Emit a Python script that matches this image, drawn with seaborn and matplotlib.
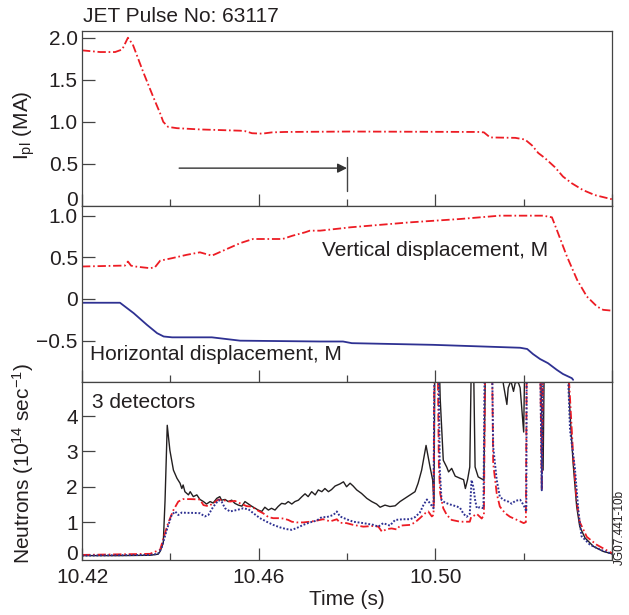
import matplotlib
matplotlib.use("Agg")
import matplotlib.pyplot as plt
import seaborn as sns
import pandas as pd
from matplotlib.ticker import FixedLocator, FixedFormatter

# ---------------- data ----------------
ip_t = [10.4200, 10.4241, 10.4275, 10.4291, 10.4304, 10.4315, 10.4338, 10.4361, 10.4377,
        10.4384, 10.4395, 10.4415, 10.4467, 10.4558, 10.4569, 10.4585, 10.4608, 10.4630,
        10.4660, 10.4807, 10.5100, 10.5110, 10.5124, 10.5181, 10.5203, 10.5219, 10.5233,
        10.5248, 10.5271, 10.5289, 10.5309, 10.5334, 10.5361, 10.5400]
ip_val = [1.85, 1.83, 1.83, 1.86, 2.00, 1.92, 1.60, 1.30, 1.10,
          1.00, 0.94, 0.925, 0.91, 0.895, 0.89, 0.865, 0.86, 0.875,
          0.88, 0.885, 0.88, 0.875, 0.815, 0.81, 0.79, 0.72, 0.63,
          0.57, 0.46, 0.35, 0.27, 0.19, 0.13, 0.08]

vert_t = [10.4200, 10.4286, 10.4297, 10.4304, 10.4311, 10.4320, 10.4354, 10.4365, 10.4377,
          10.4404, 10.4437, 10.4467, 10.4494, 10.4528, 10.4558, 10.4587, 10.4654, 10.4677,
          10.4705, 10.4716, 10.4739, 10.4791, 10.4807, 10.4943, 10.5056, 10.5146, 10.5244,
          10.5264, 10.5275, 10.5298, 10.5321, 10.5343, 10.5366, 10.5380, 10.5400]
vert_val = [0.39, 0.40, 0.40, 0.45, 0.40, 0.39, 0.37, 0.38, 0.46,
            0.49, 0.53, 0.56, 0.52, 0.60, 0.67, 0.72, 0.72, 0.76,
            0.80, 0.82, 0.82, 0.85, 0.86, 0.92, 0.96, 1.00, 1.00,
            0.98, 0.83, 0.51, 0.23, 0.03, -0.09, -0.13, -0.14]

horz_t = [10.4200, 10.4286, 10.4317, 10.4347, 10.4370, 10.4385, 10.4404, 10.4494, 10.4558,
          10.4739, 10.4791, 10.4811, 10.4995, 10.5192, 10.5208, 10.5221, 10.5237, 10.5255,
          10.5275, 10.5289, 10.5309, 10.5312]
horz_val = [-0.045, -0.045, -0.17, -0.31, -0.41, -0.45, -0.46, -0.46, -0.50,
            -0.51, -0.51, -0.53, -0.55, -0.585, -0.60, -0.66, -0.72, -0.77,
            -0.85, -0.90, -0.95, -0.97]

nb_t = [10.4200, 10.4286, 10.4354, 10.4372, 10.4377, 10.4384, 10.4388, 10.4393, 10.4399,
        10.4407, 10.4415, 10.4422, 10.4426, 10.4429, 10.4433, 10.4441, 10.4445, 10.4452,
        10.4460, 10.4467, 10.4475, 10.4482, 10.4490, 10.4497, 10.4505, 10.4512, 10.4516,
        10.4524, 10.4531, 10.4539, 10.4546, 10.4554, 10.4562, 10.4569, 10.4577, 10.4584,
        10.4592, 10.4599, 10.4607, 10.4614, 10.4622, 10.4629, 10.4637, 10.4644, 10.4652,
        10.4660, 10.4667, 10.4675, 10.4682, 10.4690, 10.4698, 10.4705, 10.4712, 10.4720,
        10.4728, 10.4735, 10.4743, 10.4750, 10.4758, 10.4765, 10.4773, 10.4784, 10.4792,
        10.4799, 10.4807, 10.4814, 10.4822, 10.4833, 10.4845, 10.4856, 10.4867, 10.4875,
        10.4886, 10.4897, 10.4909, 10.4920, 10.4931, 10.4943, 10.4954, 10.4961, 10.4969,
        10.4979, 10.4988, 10.4994, 10.4997, 10.4999, 10.5003, 10.5008, 10.5011, 10.5018,
        10.5026, 10.5030, 10.5037, 10.5045, 10.5056, 10.5064, 10.5068, 10.5073, 10.5078,
        10.5082, 10.5086, 10.5090, 10.5097, 10.5105, 10.5110, 10.5114, 10.5146, 10.5154,
        10.5162, 10.5165, 10.5171, 10.5177, 10.5181, 10.5188, 10.5192, 10.5200, 10.5203,
        10.5237, 10.5241, 10.5244, 10.5247, 10.5298, 10.5305, 10.5312, 10.5320, 10.5327,
        10.5339, 10.5358, 10.5380, 10.5400]
nb_val = [0.05, 0.05, 0.06, 0.09, 0.17, 0.41, 1.60, 3.74, 3.03,
          2.47, 2.24, 2.10, 1.95, 2.05, 1.86, 1.77, 1.86, 1.72,
          1.77, 1.64, 1.58, 1.51, 1.58, 1.54, 1.67, 1.72, 1.62,
          1.64, 1.58, 1.62, 1.53, 1.48, 1.45, 1.58, 1.51, 1.45,
          1.39, 1.34, 1.30, 1.42, 1.34, 1.39, 1.34, 1.44, 1.53,
          1.51, 1.58, 1.51, 1.58, 1.62, 1.72, 1.80, 1.72, 1.86,
          1.77, 1.91, 1.86, 1.95, 1.86, 1.92, 2.02, 2.08, 2.14,
          2.00, 2.10, 2.02, 1.91, 1.81, 1.67, 1.58, 1.51, 1.42,
          1.48, 1.44, 1.46, 1.58, 1.67, 1.77, 1.86, 2.10, 2.47,
          3.17, 2.56, 2.19, 1.54, 6.00, 6.00, 6.00, 4.50, 2.75,
          2.55, 2.42, 2.52, 2.30, 2.24, 2.20, 1.95, 2.20, 2.56,
          6.00, 6.00, 2.56, 2.28, 2.22, 2.20, 6.00, 6.00, 4.91,
          4.33, 4.80, 5.00, 4.70, 4.95, 4.95, 4.80, 3.55, 6.00,
          6.00, 4.00, 2.47, 6.00, 6.00, 4.07, 2.66, 1.44, 0.87,
          0.55, 0.31, 0.17, 0.10]

nr_t = [10.4200, 10.4354, 10.4377, 10.4388, 10.4395, 10.4407, 10.4418, 10.4429, 10.4445,
        10.4467, 10.4475, 10.4486, 10.4497, 10.4509, 10.4520, 10.4535, 10.4546, 10.4558,
        10.4573, 10.4584, 10.4596, 10.4610, 10.4622, 10.4633, 10.4644, 10.4656, 10.4667,
        10.4675, 10.4686, 10.4701, 10.4716, 10.4731, 10.4746, 10.4762, 10.4777, 10.4784,
        10.4799, 10.4814, 10.4837, 10.4860, 10.4871, 10.4879, 10.4890, 10.4901, 10.4913,
        10.4920, 10.4943, 10.4954, 10.4965, 10.4977, 10.4984, 10.4992, 10.4996, 10.4998,
        10.5005, 10.5008, 10.5011, 10.5018, 10.5026, 10.5037, 10.5056, 10.5078, 10.5081,
        10.5086, 10.5094, 10.5105, 10.5110, 10.5113, 10.5128, 10.5131, 10.5139, 10.5146,
        10.5158, 10.5169, 10.5185, 10.5200, 10.5205, 10.5207, 10.5237, 10.5241, 10.5244,
        10.5298, 10.5305, 10.5312, 10.5320, 10.5327, 10.5343, 10.5365, 10.5388, 10.5400]
nr_val = [0.07, 0.10, 0.22, 0.69, 0.97, 1.34, 1.58, 1.65, 1.65,
          1.64, 1.48, 1.45, 1.53, 1.64, 1.62, 1.58, 1.60, 1.53,
          1.45, 1.44, 1.34, 1.25, 1.14, 1.11, 1.11, 1.10, 1.06,
          1.01, 0.99, 0.99, 1.01, 1.04, 1.08, 1.02, 1.08, 0.98,
          0.97, 0.92, 0.87, 0.89, 0.87, 0.73, 0.80, 0.82, 0.79,
          0.90, 0.92, 0.99, 1.11, 1.25, 1.30, 1.16, 1.20, 6.00,
          6.00, 2.60, 1.81, 1.39, 1.20, 1.06, 1.01, 1.01, 1.14,
          1.17, 1.23, 1.10, 1.20, 6.00, 6.00, 2.66, 1.81, 1.44,
          1.25, 1.15, 1.06, 0.97, 1.00, 6.00, 6.00, 1.90, 6.00,
          6.00, 4.50, 2.90, 1.60, 1.00, 0.58, 0.36, 0.20, 0.12]

nbl_t = [10.4200, 10.4354, 10.4372, 10.4380, 10.4392, 10.4403, 10.4411, 10.4418, 10.4426,
         10.4437, 10.4452, 10.4467, 10.4478, 10.4486, 10.4497, 10.4509, 10.4516, 10.4524,
         10.4535, 10.4550, 10.4565, 10.4577, 10.4588, 10.4603, 10.4618, 10.4633, 10.4648,
         10.4663, 10.4675, 10.4686, 10.4701, 10.4716, 10.4731, 10.4743, 10.4754, 10.4769,
         10.4777, 10.4784, 10.4799, 10.4814, 10.4837, 10.4860, 10.4871, 10.4882, 10.4897,
         10.4909, 10.4927, 10.4943, 10.4954, 10.4965, 10.4973, 10.4981, 10.4988, 10.4996,
         10.4998, 10.5007, 10.5010, 10.5014, 10.5022, 10.5033, 10.5049, 10.5056, 10.5064,
         10.5071, 10.5078, 10.5082, 10.5086, 10.5090, 10.5094, 10.5101, 10.5109, 10.5112,
         10.5128, 10.5131, 10.5139, 10.5146, 10.5154, 10.5165, 10.5173, 10.5181, 10.5192,
         10.5200, 10.5206, 10.5207, 10.5237, 10.5241, 10.5244, 10.5298, 10.5305, 10.5316,
         10.5324, 10.5331, 10.5350, 10.5373, 10.5400]
nbl_val = [0.05, 0.07, 0.10, 0.26, 0.78, 1.20, 1.30, 1.20, 1.27,
           1.26, 1.26, 1.25, 1.16, 1.20, 1.43, 1.62, 1.58, 1.39,
           1.30, 1.34, 1.39, 1.36, 1.25, 1.11, 1.01, 0.92, 0.85,
           0.80, 0.78, 0.83, 0.92, 0.99, 1.04, 1.14, 1.14, 1.20,
           1.30, 1.16, 1.08, 1.01, 0.97, 0.92, 0.87, 0.97, 0.90,
           1.06, 1.08, 1.08, 1.14, 1.27, 1.48, 1.64, 1.53, 1.39,
           6.00, 6.00, 2.50, 1.62, 1.55, 1.50, 1.44, 1.40, 1.23,
           1.15, 1.23, 2.19, 2.00, 1.63, 1.39, 1.42, 1.39, 6.00,
           6.00, 3.13, 2.19, 1.72, 1.63, 1.58, 1.52, 1.60, 1.63,
           1.48, 1.30, 6.00, 6.00, 1.90, 6.00, 6.00, 3.60, 2.52,
           1.30, 0.60, 0.36, 0.22, 0.10]

x_major = [10.42, 10.46, 10.50, 10.54]
x_major_labels = ["10.42", "10.46", "10.50", ""]
x_minor = [10.44, 10.48, 10.52]
ip_ticks = [0.5, 1.0, 1.5, 2.0]
ip_tick_labels = ["0.5", "1.0", "1.5", "2.0"]
disp_ticks = [-0.5, 0.0, 0.5, 1.0]
disp_tick_labels = ["\u22120.5", "0", "0.5", "1.0"]
neut_ticks = [1, 2, 3, 4]
neut_tick_labels = ["1", "2", "3", "4"]

# ---------------- style ----------------
sns.set_theme(style="ticks")
TXT = "#231f20"
plt.rcParams.update({
    "font.family": ["Liberation Sans", "DejaVu Sans"],
    "mathtext.fontset": "custom",
    "mathtext.rm": "Liberation Sans",
    "mathtext.it": "Liberation Sans:italic",
    "font.size": 15,
    "text.color": TXT,
    "axes.labelcolor": TXT,
    "xtick.color": "#444444",
    "ytick.color": "#444444",
    "xtick.labelcolor": TXT,
    "ytick.labelcolor": TXT,
    "lines.scale_dashes": False,
})
RED = "#ed1c24"
BLUE = "#2e3192"
BLACK = "#231f20"
DASHDOT = (0, (6.0, 2.0, 1.2, 2.0))
DOTTED = (0, (1.3, 1.3))

W, H = 629, 615
fig = plt.figure(figsize=(W / 100, H / 100), dpi=100)
left, right = 82, 612


def make_ax(top, bottom):
    return fig.add_axes([left / W, (H - bottom) / H, (right - left) / W, (bottom - top) / H])


ax1 = make_ax(31, 206)
ax2 = make_ax(206, 381.5)
ax3 = make_ax(381.5, 559.5)

df_ip = pd.DataFrame({"t": ip_t, "v": ip_val})
df_vert = pd.DataFrame({"t": vert_t, "v": vert_val})
df_horz = pd.DataFrame({"t": horz_t, "v": horz_val})
df_nb = pd.DataFrame({"t": nb_t, "v": nb_val})
df_nr = pd.DataFrame({"t": nr_t, "v": nr_val})
df_nbl = pd.DataFrame({"t": nbl_t, "v": nbl_val})

sns.lineplot(data=df_ip, x="t", y="v", ax=ax1, color=RED, lw=1.3, ls=DASHDOT,
             estimator=None, sort=False)
sns.lineplot(data=df_vert, x="t", y="v", ax=ax2, color=RED, lw=1.3, ls=DASHDOT,
             estimator=None, sort=False)
sns.lineplot(data=df_horz, x="t", y="v", ax=ax2, color=BLUE, lw=1.3,
             estimator=None, sort=False)
sns.lineplot(data=df_nb, x="t", y="v", ax=ax3, color=BLACK, lw=1.0,
             estimator=None, sort=False)
sns.lineplot(data=df_nr, x="t", y="v", ax=ax3, color=RED, lw=1.3, ls=DASHDOT,
             estimator=None, sort=False)
sns.lineplot(data=df_nbl, x="t", y="v", ax=ax3, color=BLUE, lw=1.4, ls=DOTTED,
             estimator=None, sort=False)

ax1.set_ylim(0, 2.08)
ax2.set_ylim(-0.99, 1.116)
ax3.set_ylim(-0.06, 4.98)

for ax in (ax1, ax2, ax3):
    ax.set_xlim(10.42, 10.54)
    ax.xaxis.set_major_locator(FixedLocator(x_major))
    ax.xaxis.set_minor_locator(FixedLocator(x_minor))
    ax.tick_params(axis="x", which="major", direction="in", length=8.5, width=0.9, pad=6)
    ax.tick_params(axis="x", which="minor", direction="in", length=5, width=0.9)
    ax.tick_params(axis="y", which="major", direction="in", length=9, width=0.9, pad=3,
                   labelsize=15)
    ax.tick_params(axis="x", labelsize=15)
    for s in ax.spines.values():
        s.set_visible(True)
        s.set_color("#444444")
        s.set_linewidth(0.9)
    ax.set_xlabel("")
    ax.set_ylabel("")

ax1.xaxis.set_major_formatter(FixedFormatter([""] * 4))
ax2.xaxis.set_major_formatter(FixedFormatter([""] * 4))
ax3.xaxis.set_major_formatter(FixedFormatter(x_major_labels))

ax1.yaxis.set_major_locator(FixedLocator(ip_ticks))
ax1.yaxis.set_major_formatter(FixedFormatter(ip_tick_labels))
ax2.yaxis.set_major_locator(FixedLocator(disp_ticks))
ax2.yaxis.set_major_formatter(FixedFormatter(disp_tick_labels))
ax3.yaxis.set_major_locator(FixedLocator(neut_ticks))
ax3.yaxis.set_major_formatter(FixedFormatter(neut_tick_labels))

# "0" labels at the panel bottoms, nudged up slightly as in the original
ax1.annotate("0", xy=(0, 0), xycoords=("axes fraction", "data"), xytext=(-3, 4),
             textcoords="offset points", ha="right", va="center", fontsize=15, color=TXT)
ax3.annotate("0", xy=(0, 0), xycoords=("axes fraction", "data"), xytext=(-3, 2),
             textcoords="offset points", ha="right", va="center", fontsize=15, color=TXT)

# arrow in current panel
ax1.annotate("", xy=(10.4800, 0.45), xytext=(10.4420, 0.45),
             arrowprops=dict(arrowstyle="-|>", color="#333333", lw=1.0,
                             mutation_scale=14, shrinkA=0, shrinkB=0))
ax1.plot([10.4800, 10.4800], [0.18, 0.58], color="#444444", lw=1.0)

# labels
ax1.set_ylabel(r"I$_{\rm pl}$ (MA)", fontsize=15)
ax1.yaxis.set_label_coords(-0.085, 0.46)
ax3.set_ylabel(r"Neutrons (10$^{14}$ sec$^{-1}$)", fontsize=15)
ax3.yaxis.set_label_coords(-0.087, 0.54)
ax3.set_xlabel("Time (s)", fontsize=15, labelpad=2)

ax2.text(322 / W, 1 - 250 / H, "Vertical displacement, M", transform=fig.transFigure,
         ha="left", va="center", fontsize=15)
ax2.text(90 / W, 1 - 355 / H, "Horizontal displacement, M", transform=fig.transFigure,
         ha="left", va="center", fontsize=15)
ax3.text(92 / W, 1 - 402 / H, "3 detectors", transform=fig.transFigure,
         ha="left", va="center", fontsize=15)
fig.text(83 / W, 1 - 17 / H, "JET Pulse No: 63117", ha="left", va="center", fontsize=15)
fig.text(620 / W, 1 - 527 / H, "JG07.441-10b", rotation=90, ha="center", va="center",
         fontsize=8.5)

fig.savefig("out.png", dpi=100)
